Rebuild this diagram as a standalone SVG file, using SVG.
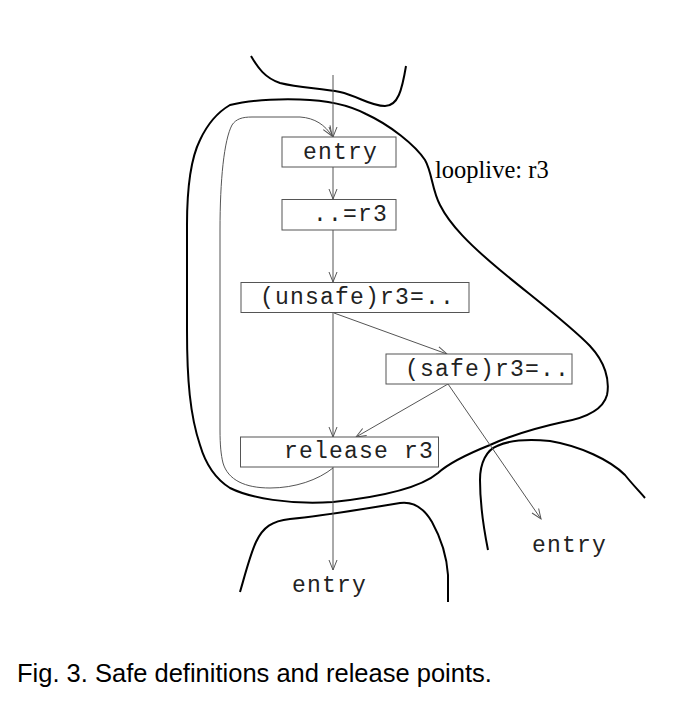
<svg xmlns="http://www.w3.org/2000/svg" width="677" height="711" viewBox="0 0 677 711">
<defs>
<style>
.box{fill:#fff;stroke:#555;stroke-width:1}
.code{font-family:"Liberation Mono","Courier New",monospace;font-size:23px;letter-spacing:1.2px;fill:#222}
.edge{fill:none;stroke:#555;stroke-width:1}
.thick{fill:none;stroke:#000;stroke-width:2}
.serif{font-family:"Liberation Serif","Times New Roman",serif;font-size:24.5px;fill:#000}
.cap{font-family:"Liberation Sans",Arial,sans-serif;font-size:25.5px;fill:#000}
</style>
<marker id="arr" viewBox="-11 -5 12 10" refX="0" refY="0" markerWidth="12" markerHeight="10" markerUnits="userSpaceOnUse" orient="auto">
<path d="M-10,-4 L0,0 L-10,4" fill="none" stroke="#555" stroke-width="1"/>
</marker>
</defs>
<rect width="677" height="711" fill="#fff"/>

<g id="regions">
<path class="thick" d="M230,105 C250,100 280,99 300,99.5 C320,100 345,103 366,114 C390,125 415,145 425,160 C432,172 432,190 440,205 C450,225 470,245 500,270 C530,295 570,325 590,346 C605,362 610,380 607,395 C603,410 585,418 563,422 C540,427 510,436 490,445 C470,453 450,462 438,473 C420,488 380,497 333,502 C290,505 250,498 230,488 C214,478 205,462 200,445 C190,415 187,380 187,330 L187,225 C187,190 190,160 200,140 C207,125 218,112 230,105 Z"/>
<path class="thick" d="M251,56 C258,68 265,78 280,83 C300,88 320,88 340,92 C358,96 370,106 385,106 C398,106 402,90 406,66"/>
<path class="thick" d="M240,592 C245,575 250,555 256,542 C263,527 272,521 290,519 C320,516 370,508 400,503 C415,501 425,510 432,522 C442,540 447,560 448,575 L448,602"/>
<path class="thick" d="M488,550 C484,530 480,505 480,480 C480,462 487,450 497,446 C510,440 530,439 550,441 C580,446 610,460 625,475 C633,485 640,492 645,498"/>
<text class="serif" x="435" y="178">looplive: r3</text>
</g>

<g id="connectors">
<line class="edge" x1="333" y1="75" x2="333" y2="137" marker-end="url(#arr)"/>
<line class="edge" x1="333" y1="167" x2="333" y2="199" marker-end="url(#arr)"/>
<line class="edge" x1="333" y1="230" x2="333" y2="282" marker-end="url(#arr)"/>
<line class="edge" x1="333" y1="313" x2="333" y2="437" marker-end="url(#arr)"/>
<line class="edge" x1="334" y1="313" x2="447" y2="354" marker-end="url(#arr)"/>
<line class="edge" x1="448" y1="384" x2="356" y2="437" marker-end="url(#arr)"/>
<line class="edge" x1="448" y1="384" x2="541" y2="519" marker-end="url(#arr)"/>
<line class="edge" x1="333" y1="467" x2="333" y2="570" marker-end="url(#arr)"/>
<path class="edge" d="M333,468 C318,480 295,488 270,488 C245,488 228,480 223,463 C221,455 220,445 220,430 L220,230 C220,180 224,140 232,125 C236,119 242,117 252,117 L300,117 C315,118 325,125 332,136" marker-end="url(#arr)"/>
</g>

<g id="n-entry">
<rect class="box" x="282" y="137" width="114" height="30"/>
<text class="code" x="303.1" y="158.5">entry</text>
</g>
<g id="n-use">
<rect class="box" x="282" y="199.5" width="114" height="30.5"/>
<text class="code" x="313.1" y="220.5">..=r3</text>
</g>
<g id="n-unsafe">
<rect class="box" x="241" y="282.5" width="228" height="30"/>
<text class="code" x="260.1" y="303.5">(unsafe)r3=..</text>
</g>
<g id="n-safe">
<rect class="box" x="386" y="354" width="186" height="30"/>
<text class="code" x="405.1" y="375.5">(safe)r3=..</text>
</g>
<g id="n-release">
<rect class="box" x="240.5" y="437" width="198" height="30"/>
<text class="code" x="284.1" y="458">release r3</text>
</g>
<g id="n-exit1">
<text class="code" x="292.1" y="591.5">entry</text>
</g>
<g id="n-exit2">
<text class="code" x="532.1" y="551.5">entry</text>
</g>

<text class="cap" x="17" y="682">Fig. 3. Safe definitions and release points.</text>
</svg>
